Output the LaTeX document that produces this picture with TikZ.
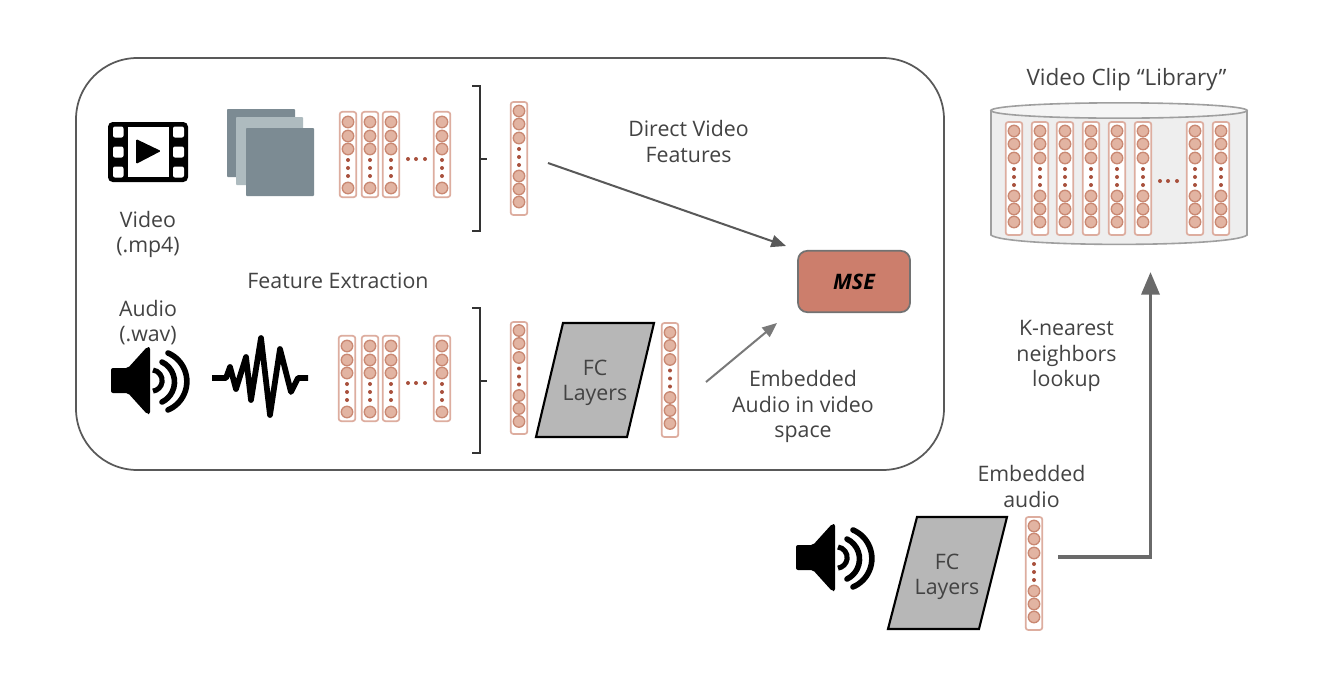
\documentclass[tikz,border=0pt]{standalone}
\usepackage{fontspec}
\setmainfont{Open Sans}
\usetikzlibrary{arrows.meta,shapes.geometric}
\definecolor{vecline}{HTML}{DDAD9F}
\definecolor{vecfill}{HTML}{E2B4A2}
\definecolor{vecring}{HTML}{C98872}
\definecolor{vecdot}{HTML}{A8503C}
\definecolor{txt}{HTML}{434343}
\definecolor{linegray}{HTML}{595959}
\definecolor{framedark}{HTML}{7C8B93}
\definecolor{framelight}{HTML}{AEBBBF}
\definecolor{fcgray}{HTML}{B7B7B7}
\definecolor{msefill}{HTML}{CC7E6C}
\tikzset{
  x=0.75pt,y=-0.75pt,
  lbl/.style={font=\fontsize{16pt}{18.8pt}\selectfont,text=txt,align=center,inner sep=0pt},
  vecbox/.style={draw=vecline,line width=1.3pt,rounded corners=2pt,fill=white,minimum width=12.5pt,inner sep=0pt},
  vecbub/.style={circle,draw=vecring,fill=vecfill,line width=1pt,minimum size=8.6pt,inner sep=0pt},
  vecspot/.style={circle,fill=vecdot,minimum size=3pt,inner sep=0pt},
  bracketline/.style={draw=black!80,line width=1.3pt},
  conn/.style={draw=linegray,line width=1.5pt,-{Triangle[length=11pt,width=9pt]}},
  fcbox/.style={draw=black,fill=fcgray,line width=1.6pt,line join=miter},
  framesheet/.style={draw=none,rounded corners=0.6pt},
}
% short column: x, y of top, name
\newcommand{\vshort}[3]{%
  \node[vecbox,minimum height=64pt] (#3) at (#1,{#2+42.5}) {};
  \foreach \d in {10,24,37,76} \node[vecbub] at (#1,{#2+\d}) {};
  \foreach \d in {48,56,64} \node[vecspot] at (#1,{#2+\d}) {};
}
% long column: x, y of top, box height in px, name
\newcommand{\vlong}[4]{%
  \node[vecbox,minimum height=#3*0.75pt] (#4) at (#1,{#2+#3/2}) {};
  \foreach \d in {9,22,36,74,87,100} \node[vecbub] at (#1,{#2+\d+(#3-113)/2}) {};
  \foreach \d in {47,55,63} \node[vecspot] at (#1,{#2+\d+(#3-113)/2}) {};
}
\newcommand{\speaker}[2]{%
  \begin{scope}[shift={(#1,#2)}]
    \fill[black,rounded corners=1.5pt] (-39,-13) -- (-22,-13) -- (-3,-34) -- (0,-34) -- (0,33) -- (-3,33) -- (-22,12) -- (-39,12) -- cycle;
    \draw[black,line width=4.2pt,line cap=round] (18,-28) arc[start angle=67,end angle=-67,radius=23.2pt];
    \draw[black,line width=4.2pt,line cap=round] (12,-19) arc[start angle=64,end angle=-64,radius=16.7pt];
    \draw[black,line width=3.8pt] (3,-11) arc[start angle=82,end angle=-82,radius=8pt];
  \end{scope}
}
\begin{document}
\begin{tikzpicture}
\useasboundingbox (0,0) rectangle (1318,672);
\fill[white] (0,0) rectangle (1318,672);

% main panel
\node[draw=linegray,line width=1.3pt,rounded corners=46pt,minimum width=651pt,minimum height=309pt,inner sep=0pt] (panel) at (510,264) {};

% film icon
\fill[black,rounded corners=3.5pt] (108,122) rectangle (188,182);
\fill[white] (128,127) rectangle (169,177);
\foreach \yy in {132,152,172}{
  \fill[white,rounded corners=1.5pt] (113,\yy-5.5) rectangle (123.5,\yy+5.5);
  \fill[white,rounded corners=1.5pt] (173,\yy-5.5) rectangle (184,\yy+5.5);
}
\fill[black,rounded corners=1pt] (136,139) -- (161,151) -- (136,164) -- cycle;

% frames
\fill[framedark,framesheet] (227,109) rectangle (295,177);
\fill[framelight,framesheet] (236,117) rectangle (303,185);
\fill[framedark,framesheet] (246,128) rectangle (314,196);

% video columns
\vshort{348}{112}{va}\vshort{370}{112}{vb}\vshort{391}{112}{vc}\vshort{442}{112}{vd}
\foreach \xx in {408,416,425} \node[vecspot] at (\xx,159) {};
\draw[bracketline] (472,86) -- (480,86) -- (480,231) -- (472,231);
\draw[bracketline] (480,159) -- (487,159);
\vlong{519}{102}{113}{vfeat}

% audio
\speaker{150}{381}
\draw[black,line width=4.3pt,line join=round,line cap=butt] (212,378) -- (226,378) -- (230,367) -- (236,389) -- (246,357) -- (251,400) -- (261,338) -- (270,415) -- (280,349) -- (291,392) -- (298,378) -- (308,378);
\vshort{347}{336}{aa}\vshort{370}{336}{ab}\vshort{391}{336}{ac}\vshort{442}{336}{ad}
\foreach \xx in {408,416,425} \node[vecspot] at (\xx,383) {};
\draw[bracketline] (472,308) -- (480,308) -- (480,453) -- (472,453);
\draw[bracketline] (480,381) -- (487,381);
\vlong{519}{322}{112}{afeat}

% FC layers, upper
\draw[fcbox] (563,323) -- (654,323) -- (627,437) -- (536,437) -- cycle;
\node[lbl] (fcutxt) at (595,383) {FC\\Layers};
\vlong{670}{323}{114}{aemb}

% MSE
\node[draw=linegray!85,fill=msefill,line width=1.3pt,rounded corners=7pt,minimum width=84pt,minimum height=46pt,inner sep=0pt,font=\fontsize{16pt}{18pt}\selectfont\bfseries\itshape] (mse) at (854,281.5) {MSE};

% library
\path[draw=gray!75,line width=1.2pt,fill=black!6.5] (991,110.5) -- (991,235) .. controls (1005,247.5) and (1233,247.5) .. (1247,235) -- (1247,110.5) -- cycle;
\node[draw=gray!75,line width=1.2pt,fill=black!4,ellipse,minimum width=192pt,minimum height=11.5pt,inner sep=0pt] (libtop) at (1119,110.5) {};
\foreach \xx/\nn in {1014/la,1040/lb,1065/lc,1091/ld,1117/le,1143/lf,1195/lg,1221/lh}{
  \vlong{\xx}{122}{113}{\nn}
}
\foreach \xx in {1160,1168,1177} \node[vecspot] at (\xx,181) {};
\node[lbl,font=\fontsize{16.9pt}{18.8pt}\selectfont] (libtxt) at (1126.5,80) {Video Clip “Library”};

% lower row
\speaker{835}{558}
\draw[fcbox] (917,517) -- (1007,517) -- (979,629) -- (888,629) -- cycle;
\node[lbl] (fcl) at (947,576.5) {FC\\Layers};
\vlong{1034}{517}{113}{bemb}

% labels
\node[lbl] (vtxt) at (148,234) {Video\\(.mp4)};
\node[lbl] (atxt) at (148,323) {Audio\\(.wav)};
\node[lbl] (fe) at (338,281) {Feature Extraction};
\node[lbl] (dv) at (688.5,141.5) {Direct Video\\Features};
\node[lbl] (ea) at (803,406.5) {Embedded\\Audio in video\\space};
\node[lbl] (knn) at (1066.5,356) {K-nearest\\neighbors\\lookup};
\node[lbl] (eb) at (1031.5,486.5) {Embedded\\audio};

% connectors
\coordinate (a1s) at (548,163);
\coordinate (a1e) at (786,246);
\draw[conn] (a1s) -- (a1e);
\coordinate (a2s) at (706,382);
\coordinate (a2e) at (777,323);
\draw[conn,draw=gray!95!black] (a2s) -- (a2e);
\coordinate (a3s) at (1058,557);
\coordinate (a3e) at (1150.5,272);
\draw[draw=linegray!90,line width=2.6pt,-{Triangle[length=17pt,width=13.5pt]}] (a3s) -| (a3e);
\end{tikzpicture}
\end{document}
